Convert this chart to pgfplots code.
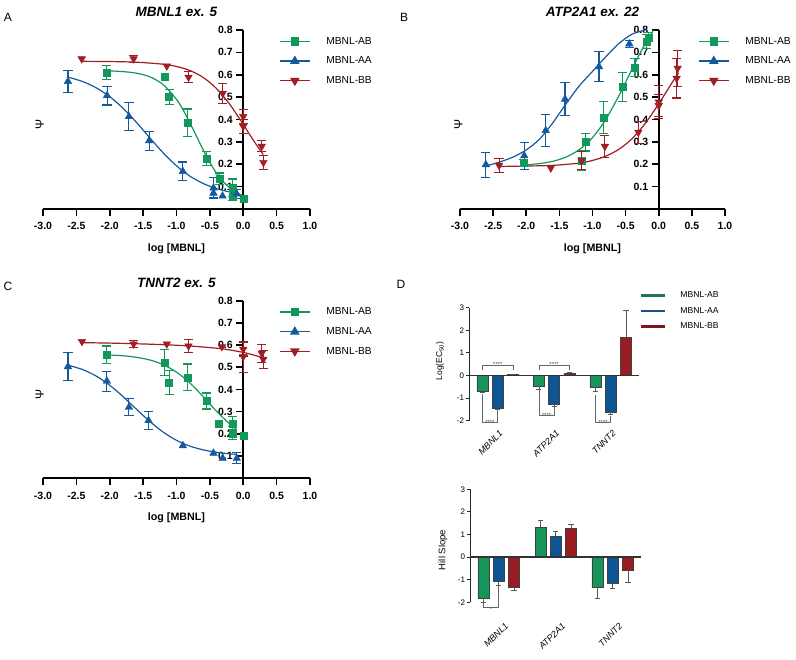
\documentclass[border=0pt]{standalone}
\usepackage{fontspec}
\setmainfont{Liberation Sans}
\usepackage{pgfplots}
\pgfplotsset{compat=1.18}
\definecolor{cg}{HTML}{12985A}
\definecolor{cb}{HTML}{14599C}
\definecolor{cr}{HTML}{A11D24}
\definecolor{bg}{HTML}{16955A}
\definecolor{bb}{HTML}{0E5596}
\definecolor{br}{HTML}{981C22}
\definecolor{lg}{HTML}{1C7A4E}
\definecolor{lb}{HTML}{1C4F88}
\definecolor{lr}{HTML}{7A1A1F}
\pgfplotsset{
  drc/.style={
    scale only axis, width=267pt, height=179pt,
    xmin=-3, xmax=1, ymin=0, ymax=0.8, clip=false,
    axis x line=bottom, axis y line=middle,
    hide obscured x ticks=false, hide obscured y ticks=false,
    axis line style={-, line width=1.6pt, black},
    xtick={-3,-2.5,-2,-1.5,-1,-0.5,0,0.5,1},
    ytick={0.1,0.2,0.3,0.4,0.5,0.6,0.7,0.8},
    tick align=outside, major tick length=7pt,
    every tick/.style={black, line width=1.6pt},
    /pgf/number format/assume math mode=true,
    xticklabel style={/pgf/number format/.cd, fixed, fixed zerofill, precision=1, /tikz/.cd, font=\bfseries\fontsize{10.5}{12}\selectfont, yshift=-3pt},
    yticklabel style={/pgf/number format/.cd, fixed, fixed zerofill, precision=1, /tikz/.cd, font=\bfseries\fontsize{10.5}{12}\selectfont},
    xlabel={log [MBNL]},
    xlabel style={at={(axis description cs:0.5,-0.222)}, anchor=center, font=\bfseries\fontsize{10.7}{12}\selectfont},
    ylabel={Ψ},
    ylabel style={at={(axis description cs:-0.012,0.47)}, anchor=center, rotate=90, font=\fontsize{12}{12}\selectfont},
    title style={at={(axis description cs:0.5,1.067)}, anchor=center, font=\bfseries\itshape\fontsize{13.5}{14}\selectfont},
    legend cell align=left,
    legend style={draw=none, fill=none, inner sep=0pt, font=\fontsize{10.2}{12}\selectfont, row sep=11pt, nodes={inner sep=0pt}, /tikz/every odd column/.append style={column sep=16pt}},
    legend image code/.code={\draw[mark repeat=2,mark phase=2,##1] plot coordinates {(0pt,0pt) (15pt,0pt) (30pt,0pt)};},
  },
  eb/.style={error bars/y dir=both, error bars/y explicit, error bars/error bar style={line width=1.1pt}, error bars/error mark options={rotate=90, mark size=4.6pt, line width=1.1pt}},
  sqm/.style={cg, only marks, mark=square*, mark size=3.5pt, forget plot},
  trm/.style={cb, only marks, mark=triangle*, mark size=4.4pt, forget plot},
  dtm/.style={cr, only marks, mark=triangle*, mark size=4.4pt, mark options={rotate=180}, forget plot},
  crv/.style={#1, line width=1.2pt, smooth, no markers, forget plot},
  dax/.style={
    scale only axis, height=113pt,
    xmin=-0.5, xmax=2.5, ymin=-2, ymax=3, clip=false,
    axis x line=bottom, axis y line=left,
    x axis line style={draw=none}, y axis line style={-, line width=1.1pt, black!85},
    xtick={0,1,2}, xticklabels={MBNL1,ATP2A1,TNNT2}, x tick style={draw=none},
    xticklabel style={rotate=45, anchor=east, font=\itshape\fontsize{9}{10}\selectfont, inner sep=0pt},
    ytick={-2,-1,0,1,2,3}, y tick style={black!85, line width=1pt}, tick align=outside, major tick length=3.5pt,
    /pgf/number format/assume math mode=true,
    yticklabel style={font=\fontsize{8}{9}\selectfont, inner sep=1.5pt},
  },
  bar/.style={ybar, bar width=11pt, bar shift=0pt, draw=black!75, line width=0.5pt, forget plot},
  beb/.style={error bars/y dir=#1, error bars/y explicit, error bars/error bar style={black!65, line width=0.6pt}, error bars/error mark options={rotate=90, mark size=2.6pt, black!65, line width=0.6pt}},
}
\begin{document}
\begin{tikzpicture}
\useasboundingbox (0pt,0pt) rectangle (796pt,660pt);
\node[font=\fontsize{12}{12}\selectfont] at (8pt,643pt) {A};
\node[font=\fontsize{12}{12}\selectfont] at (404pt,643pt) {B};
\node[font=\fontsize{12}{12}\selectfont] at (8pt,374pt) {C};
\node[font=\fontsize{12}{12}\selectfont] at (401pt,376pt) {D};

% ---------------- A ----------------
\begin{axis}[drc, at={(43pt,451pt)}, anchor=south west, title={MBNL1 ex. 5},
  legend style={at={(axis description cs:0.884,0.961)}, anchor=north west}]
\addplot[crv=cg] coordinates {(-2.05,0.618) (-1.8,0.614) (-1.6,0.607) (-1.4,0.591) (-1.2,0.556) (-1.0,0.490) (-0.9,0.442) (-0.8,0.386) (-0.7,0.325) (-0.6,0.264) (-0.5,0.208) (-0.4,0.160) (-0.3,0.122) (-0.2,0.094) (-0.1,0.074) (0,0.059)};
\addplot[crv=cb] coordinates {(-2.62,0.589) (-2.4,0.569) (-2.2,0.541) (-2.0,0.502) (-1.8,0.450) (-1.6,0.387) (-1.4,0.318) (-1.2,0.251) (-1.0,0.193) (-0.8,0.147) (-0.6,0.114) (-0.4,0.091) (-0.2,0.076) (-0.1,0.070)};
\addplot[crv=cr] coordinates {(-2.42,0.660) (-2.0,0.659) (-1.6,0.656) (-1.2,0.647) (-1.0,0.637) (-0.8,0.619) (-0.6,0.588) (-0.4,0.538) (-0.2,0.467) (0,0.378) (0.1,0.331) (0.2,0.286) (0.3,0.243)};
\addplot[sqm,eb] table[y error=e] {
x y e
-2.05 0.61 0.03
-1.11 0.50 0.034
-0.835 0.385 0.062
-0.546 0.226 0.03
-0.357 0.135 0.026
-0.162 0.094 0.04
-0.162 0.057 0.02
};
\addplot[sqm] coordinates {(-1.17,0.59) (0.0,0.046)};
\addplot[trm,eb] table[y error=e] {
x y e
-2.626 0.57 0.05
-2.04 0.507 0.042
-1.713 0.413 0.062
-1.41 0.305 0.043
-0.905 0.168 0.042
-0.446 0.094 0.045
-0.097 0.067 0.02
};
\addplot[trm] coordinates {(-0.446,0.071) (-0.31,0.058)};
\addplot[dtm,eb] table[y error=e] {
x y e
-1.643 0.671 0.015
-0.82 0.589 0.025
-0.307 0.517 0.045
0.0 0.413 0.03
0.0 0.369 0.03
0.277 0.28 0.025
0.302 0.208 0.03
};
\addplot[dtm] coordinates {(-2.42,0.671) (-1.145,0.639)};
\addlegendimage{cg, line width=1.2pt, mark=square*, mark size=3.5pt}
\addlegendentry{MBNL-AB}
\addlegendimage{cb, line width=1.2pt, mark=triangle*, mark size=4.4pt}
\addlegendentry{MBNL-AA}
\addlegendimage{cr, line width=1.2pt, mark=triangle*, mark size=4.4pt, mark options={rotate=180}}
\addlegendentry{MBNL-BB}
\end{axis}

% ---------------- B ----------------
\begin{axis}[drc, at={(460pt,451pt)}, anchor=south west, width=265pt, title={ATP2A1 ex. 22},
  ylabel style={at={(axis description cs:-0.006,0.47)}},
  legend style={at={(axis description cs:0.898,0.961)}, anchor=north west}]
\addplot[crv=cb] coordinates {(-2.61,0.192) (-2.4,0.21) (-2.2,0.232) (-2.0,0.264) (-1.8,0.312) (-1.6,0.385) (-1.4,0.47) (-1.2,0.55) (-1.0,0.615) (-0.8,0.68) (-0.6,0.74) (-0.4,0.782) (-0.2,0.80)};
\addplot[crv=cg] coordinates {(-2.04,0.196) (-1.8,0.203) (-1.6,0.213) (-1.4,0.232) (-1.2,0.265) (-1.0,0.319) (-0.8,0.400) (-0.6,0.507) (-0.5,0.567) (-0.4,0.627) (-0.3,0.686) (-0.2,0.741) (-0.1,0.789) (-0.08,0.800)};
\addplot[crv=cr] coordinates {(-2.41,0.190) (-2.0,0.192) (-1.6,0.195) (-1.2,0.205) (-1.0,0.217) (-0.8,0.236) (-0.6,0.267) (-0.4,0.315) (-0.2,0.384) (0,0.470) (0.1,0.517) (0.2,0.564) (0.3,0.609)};
\addplot[sqm,eb] table[y error=e] {
x y e
-2.044 0.205 0.015
-1.166 0.217 0.043
-1.11 0.299 0.04
-0.836 0.409 0.07
-0.545 0.547 0.065
-0.359 0.632 0.04
-0.183 0.748 0.03
-0.158 0.767 0.02
};
\addplot[trm,eb] table[y error=e] {
x y e
-2.61 0.198 0.056
-2.03 0.238 0.06
-1.706 0.351 0.07
-1.415 0.491 0.073
-0.902 0.636 0.068
-0.444 0.738 0.015
};
\addplot[dtm,eb] table[y error=e] {
x y e
-2.41 0.195 0.03
-1.166 0.216 0.04
-0.813 0.28 0.05
-0.308 0.343 0.05
0.0 0.478 0.075
0.0 0.462 0.05
0.27 0.584 0.088
0.285 0.629 0.08
};
\addplot[dtm] coordinates {(-1.63,0.183)};
\addlegendimage{cg, line width=1.2pt, mark=square*, mark size=3.5pt}
\addlegendentry{MBNL-AB}
\addlegendimage{cb, line width=1.2pt, mark=triangle*, mark size=4.4pt}
\addlegendentry{MBNL-AA}
\addlegendimage{cr, line width=1.2pt, mark=triangle*, mark size=4.4pt, mark options={rotate=180}}
\addlegendentry{MBNL-BB}
\end{axis}

% ---------------- C ----------------
\begin{axis}[drc, at={(43pt,181.7pt)}, anchor=south west, height=177.6pt, title={TNNT2 ex. 5},
  legend style={at={(axis description cs:0.884,0.961)}, anchor=north west}]
\addplot[crv=cg] coordinates {(-2.05,0.556) (-1.8,0.552) (-1.6,0.545) (-1.4,0.533) (-1.2,0.512) (-1.0,0.478) (-0.8,0.430) (-0.6,0.368) (-0.4,0.302) (-0.2,0.244) (-0.1,0.220)};
\addplot[crv=cb] coordinates {(-2.626,0.510) (-2.4,0.489) (-2.2,0.460) (-2.0,0.419) (-1.8,0.368) (-1.6,0.311) (-1.4,0.256) (-1.2,0.208) (-1.0,0.171) (-0.8,0.145) (-0.6,0.128) (-0.4,0.117) (-0.2,0.110) (-0.1,0.108)};
\addplot[crv=cr] coordinates {(-2.416,0.611) (-2.0,0.609) (-1.6,0.606) (-1.2,0.602) (-0.8,0.596) (-0.4,0.586) (-0.2,0.578) (0,0.567) (0.15,0.556) (0.3,0.542)};
\addplot[sqm,eb] table[y error=e] {
x y e
-2.052 0.556 0.04
-1.175 0.522 0.058
-1.11 0.432 0.055
-0.835 0.455 0.06
-0.546 0.348 0.036
-0.162 0.248 0.03
-0.162 0.203 0.03
};
\addplot[sqm] coordinates {(-0.361,0.245) (0.0,0.191)};
\addplot[trm,eb] table[y error=e] {
x y e
-2.626 0.503 0.064
-2.043 0.438 0.045
-1.713 0.32 0.038
-1.419 0.26 0.04
-0.097 0.09 0.025
};
\addplot[trm] coordinates {(-0.905,0.147) (-0.446,0.113) (-0.31,0.09)};
\addplot[dtm,eb] table[y error=e] {
x y e
-1.643 0.605 0.015
-0.82 0.596 0.03
0.0 0.581 0.03
0.0 0.548 0.07
0.277 0.563 0.04
0.30 0.536 0.04
};
\addplot[dtm] coordinates {(-2.416,0.616) (-1.145,0.605) (-0.32,0.593)};
\addlegendimage{cg, line width=1.2pt, mark=square*, mark size=3.5pt}
\addlegendentry{MBNL-AB}
\addlegendimage{cb, line width=1.2pt, mark=triangle*, mark size=4.4pt}
\addlegendentry{MBNL-AA}
\addlegendimage{cr, line width=1.2pt, mark=triangle*, mark size=4.4pt, mark options={rotate=180}}
\addlegendentry{MBNL-BB}
\end{axis}

% ---------------- D top ----------------
\begin{axis}[dax, at={(469.3pt,239.3pt)}, anchor=south west, width=169.7pt,
  xticklabel style={xshift=-2.8pt, yshift=-7.9pt},
  ylabel={Log(EC\textsubscript{50})},
  every axis y label/.style={at={(axis description cs:-0.173,0.528)}, rotate=90, anchor=center, font=\fontsize{8.5}{10}\selectfont},
  legend cell align=left,
  legend style={at={(axis description cs:1.004,1.142)}, anchor=north west, draw=none, fill=none, inner sep=0pt, font=\fontsize{8.6}{10}\selectfont, row sep=8pt, nodes={inner sep=0pt}, /tikz/every odd column/.append style={column sep=14pt}}]
\addplot[bar, fill=bg, xshift=-15.3pt, beb=minus] coordinates {(0,-0.70) +- (0,0.03) (1,-0.47) +- (0,0.13) (2,-0.53) +- (0,0.15)};
\addplot[bar, fill=bb, beb=minus] coordinates {(0,-1.45) +- (0,0.03) (1,-1.28) +- (0,0.07) (2,-1.63) +- (0,0.07)};
\addplot[bar, fill=br, xshift=15.3pt, beb=plus] coordinates {(0,0.05) +- (0,0.02) (1,0.10) +- (0,0.05) (2,1.69) +- (0,1.19)};
\addplot[black!80, line width=1.3pt, forget plot] coordinates {(-0.5,0) (2.5,0)};
\draw[black!60, line width=0.6pt] (axis cs:-0.27,0.25) |- (axis cs:0.27,0.44) -- (axis cs:0.27,0.25);
\draw[black!60, line width=0.6pt] (axis cs:0.73,0.25) |- (axis cs:1.27,0.44) -- (axis cs:1.27,0.25);
\draw[black!60, line width=0.6pt] (axis cs:-0.27,-0.81) |- (axis cs:0,-2.07) -- (axis cs:0,-1.5);
\draw[black!60, line width=0.6pt] (axis cs:0.73,-0.63) |- (axis cs:1,-1.77) -- (axis cs:1,-1.38);
\draw[black!60, line width=0.6pt] (axis cs:1.73,-0.88) |- (axis cs:2,-2.07) -- (axis cs:2,-1.78);
\node[font=\fontsize{6}{6}\selectfont, text=black!70, inner sep=0pt, anchor=south] at (axis cs:0,0.40) {****};
\node[font=\fontsize{6}{6}\selectfont, text=black!70, inner sep=0pt, anchor=south] at (axis cs:1,0.40) {****};
\node[font=\fontsize{6}{6}\selectfont, text=black!70, inner sep=0pt, anchor=north] at (axis cs:-0.135,-1.98) {****};
\node[font=\fontsize{6}{6}\selectfont, text=black!70, inner sep=0pt, anchor=north] at (axis cs:0.865,-1.68) {****};
\node[font=\fontsize{6}{6}\selectfont, text=black!70, inner sep=0pt, anchor=north] at (axis cs:1.865,-1.98) {****};
\addlegendimage{legend image code/.code={\draw[lg, line width=2.6pt] (0pt,0pt) -- (24pt,0pt);}}
\addlegendentry{MBNL-AB}
\addlegendimage{legend image code/.code={\draw[lb, line width=2.6pt] (0pt,0pt) -- (24pt,0pt);}}
\addlegendentry{MBNL-AA}
\addlegendimage{legend image code/.code={\draw[lr, line width=2.6pt] (0pt,0pt) -- (24pt,0pt);}}
\addlegendentry{MBNL-BB}
\end{axis}

% ---------------- D bottom ----------------
\begin{axis}[dax, at={(470.2pt,57.7pt)}, anchor=south west, width=171pt,
  xticklabel style={xshift=-7.4pt, yshift=-18.9pt},
  ylabel={Hill Slope},
  every axis y label/.style={at={(axis description cs:-0.159,0.463)}, rotate=90, anchor=center, font=\fontsize{9.5}{11}\selectfont}]
\addplot[bar, fill=bg, xshift=-15.3pt, beb=minus] coordinates {(0,-1.83) +- (0,0.17) (2,-1.34) +- (0,0.47)};
\addplot[bar, fill=bg, xshift=-15.3pt, beb=plus] coordinates {(1,1.34) +- (0,0.27)};
\addplot[bar, fill=bb, beb=minus] coordinates {(0,-1.06) +- (0,0.19) (2,-1.14) +- (0,0.25)};
\addplot[bar, fill=bb, beb=plus] coordinates {(1,0.93) +- (0,0.23)};
\addplot[bar, fill=br, xshift=15.3pt, beb=minus] coordinates {(0,-1.34) +- (0,0.12) (2,-0.58) +- (0,0.54)};
\addplot[bar, fill=br, xshift=15.3pt, beb=plus] coordinates {(1,1.27) +- (0,0.18)};
\addplot[black!80, line width=1.3pt, forget plot] coordinates {(-0.5,0) (2.5,0)};
\draw[black!60, line width=0.6pt] (axis cs:-0.27,-2.03) |- (axis cs:0,-2.2) -- (axis cs:0,-1.28);
\node[font=\fontsize{6}{6}\selectfont, text=black!70, inner sep=0pt, anchor=north] at (axis cs:-0.135,-2.22) {*};
\end{axis}
\end{tikzpicture}
\end{document}
